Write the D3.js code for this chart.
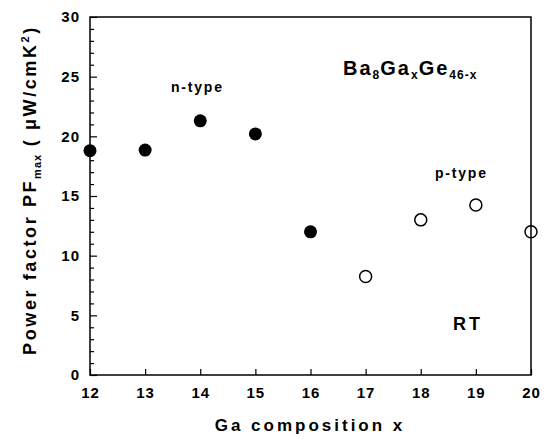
<!DOCTYPE html>
<html><head><meta charset="utf-8">
<script src="https://cdn.jsdelivr.net/npm/d3@7"></script>
<style>body{margin:0;background:#fff}svg{display:block}text{font-family:"Liberation Sans",Arial,sans-serif;font-weight:bold;fill:#000}</style>
</head><body><svg id="c" width="546" height="441"></svg>
<script>
const nX = [12, 13, 14, 15, 16];
const nY = [18.8, 18.85, 21.3, 20.2, 12.0];
const pX = [17, 18, 19, 20];
const pY = [8.25, 13.0, 14.25, 12.0];
const xTicks = [12, 13, 14, 15, 16, 17, 18, 19, 20];
const yTicks = [0, 5, 10, 15, 20, 25, 30];

const svg = d3.select("#c");
const L = 90, R = 531, T = 17, B = 375;
const x = d3.scaleLinear().domain([12, 20]).range([L, R]);
const y = d3.scaleLinear().domain([0, 30]).range([B, T]);

svg.append("rect").attr("x", L).attr("y", T).attr("width", R - L).attr("height", B - T)
  .attr("fill", "none").attr("stroke", "#000").attr("stroke-width", 1.5);

const xa = svg.append("g").attr("transform", `translate(0,${B})`)
  .call(d3.axisBottom(x).tickValues(xTicks).tickSize(-6).tickPadding(12).tickFormat(d3.format("d")));
xa.select(".domain").remove();
xa.selectAll("line").attr("stroke-width", 1.2);
xa.selectAll("text").style("font-size", "15px").style("letter-spacing", "1px");

const ya = svg.append("g").attr("transform", `translate(${L},0)`)
  .call(d3.axisLeft(y).tickValues(yTicks).tickSize(-7).tickPadding(10));
ya.select(".domain").remove();
ya.selectAll("line").attr("stroke-width", 1.2);
ya.selectAll("text").style("font-size", "15px").style("letter-spacing", "1px");

const yMinor = svg.append("g").attr("transform", `translate(${L},0)`)
  .call(d3.axisLeft(y).tickValues(d3.range(0, 31).filter(v => v % 5 !== 0)).tickSize(-4).tickFormat(""));
yMinor.select(".domain").remove();
yMinor.selectAll("line").attr("stroke-width", 1.2);

svg.append("text").attr("x", 310).attr("y", 431).attr("text-anchor", "middle")
  .style("font-size", "17px").style("letter-spacing", "3px").text("Ga composition x");

const yt = svg.append("text").attr("transform", `translate(36,190) rotate(-90)`)
  .attr("text-anchor", "middle").style("font-size", "18px").style("letter-spacing", "2.6px");
yt.append("tspan").text("Power factor PF");
yt.append("tspan").attr("dy", 5).style("font-size", "11px").style("letter-spacing", "1px").text("max");
yt.append("tspan").attr("dy", -5).text(" ( \u03BCW/cmK");
yt.append("tspan").attr("dy", -7).style("font-size", "11px").text("2");
yt.append("tspan").attr("dy", 7).text(")");

svg.append("g").selectAll("circle").data(nX).join("circle")
  .attr("cx", (d) => x(d)).attr("cy", (d, i) => y(nY[i])).attr("r", 6.5).attr("fill", "#000");
svg.append("g").selectAll("circle").data(pX).join("circle")
  .attr("cx", (d) => x(d)).attr("cy", (d, i) => y(pY[i])).attr("r", 6).attr("fill", "none")
  .attr("stroke", "#000").attr("stroke-width", 1.5);

svg.append("text").attr("x", 171).attr("y", 92).style("font-size", "14px").style("letter-spacing", "1.8px").text("n-type");
svg.append("text").attr("x", 435).attr("y", 178).style("font-size", "14px").style("letter-spacing", "1.8px").text("p-type");
svg.append("text").attr("x", 453).attr("y", 330).style("font-size", "18px").style("letter-spacing", "3px").text("RT");

const f = svg.append("text").attr("x", 343).attr("y", 75).style("font-size", "20px").style("letter-spacing", "2px");
f.append("tspan").text("Ba");
f.append("tspan").attr("dy", 4).style("font-size", "12px").style("letter-spacing", "1px").text("8");
f.append("tspan").attr("dy", -4).text("Ga");
f.append("tspan").attr("dy", 4).style("font-size", "12px").style("letter-spacing", "1px").text("x");
f.append("tspan").attr("dy", -4).text("Ge");
f.append("tspan").attr("dy", 4).style("font-size", "12px").style("letter-spacing", "1px").text("46-x");
</script></body></html>
